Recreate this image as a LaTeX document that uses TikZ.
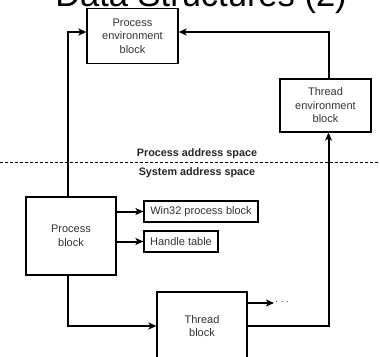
\documentclass[tikz,border=0pt]{standalone}
\usepackage{fontspec}
\setmainfont{Liberation Sans}
\usetikzlibrary{arrows.meta}
\begin{document}
\begin{tikzpicture}[x=1pt,y=-1pt,
  blk/.style={draw,line width=1.2pt,fill=white,align=center,text=black!80,
    font=\fontsize{11}{13.5}\selectfont,inner sep=0pt},
  lnk/.style={line width=2pt,-{Stealth[length=8pt,width=7pt,inset=2pt]}},
  spc/.style={font=\bfseries\fontsize{10.8}{12}\selectfont,text=black!85}]
\clip (0,0) rectangle (380,356);
\node[anchor=base,inner sep=0pt,font=\fontsize{34.5}{36}\selectfont] (title) at (201,6) {Data Structures (2)};
\node[blk,minimum width=91pt,minimum height=55pt] (peb) at (132.5,36) {Process\\environment\\block};
\node[blk,minimum width=91pt,minimum height=53pt] (teb) at (325.5,105.5) {Thread\\environment\\block};
\node[blk,minimum width=90pt,minimum height=78pt] (pb) at (71,236) {Process\\block};
\node[blk,minimum width=114pt,minimum height=21pt] (win) at (201,211.5) {Win32 process block};
\node[blk,minimum width=74pt,minimum height=21pt] (ht) at (181,241.5) {Handle table};
\node[blk,minimum width=90pt,minimum height=68pt] (tb) at (202,326) {Thread\\block};
\node[anchor=west,inner sep=1pt,text=black!80,font=\fontsize{9}{9}\selectfont] (dots) at (274,303) {· · ·};
\coordinate (sl) at (0,162);
\coordinate (sr) at (380,162);
\draw[line width=0.9pt,dash pattern=on 3pt off 2pt] (sl) -- (sr);
\node[spc] (pas) at (197,154) {Process address space};
\node[spc] (sas) at (197,173) {System address space};
\draw[lnk] ([xshift=-3pt]pb.north) |- ([yshift=4pt]peb.west);
\draw[lnk] ([xshift=3pt]teb.north) |- ([yshift=4pt]peb.east);
\draw[lnk] (pb.east |- win.west) -- (win.west);
\draw[lnk] (pb.east |- ht.west) -- (ht.west);
\draw[lnk] ([xshift=-3pt]pb.south) |- (tb.west);
\draw[lnk] (tb.east |- dots.west) -- (dots.west);
\draw[lnk] (tb.east) -| ([xshift=3pt]teb.south);
\end{tikzpicture}
\end{document}
